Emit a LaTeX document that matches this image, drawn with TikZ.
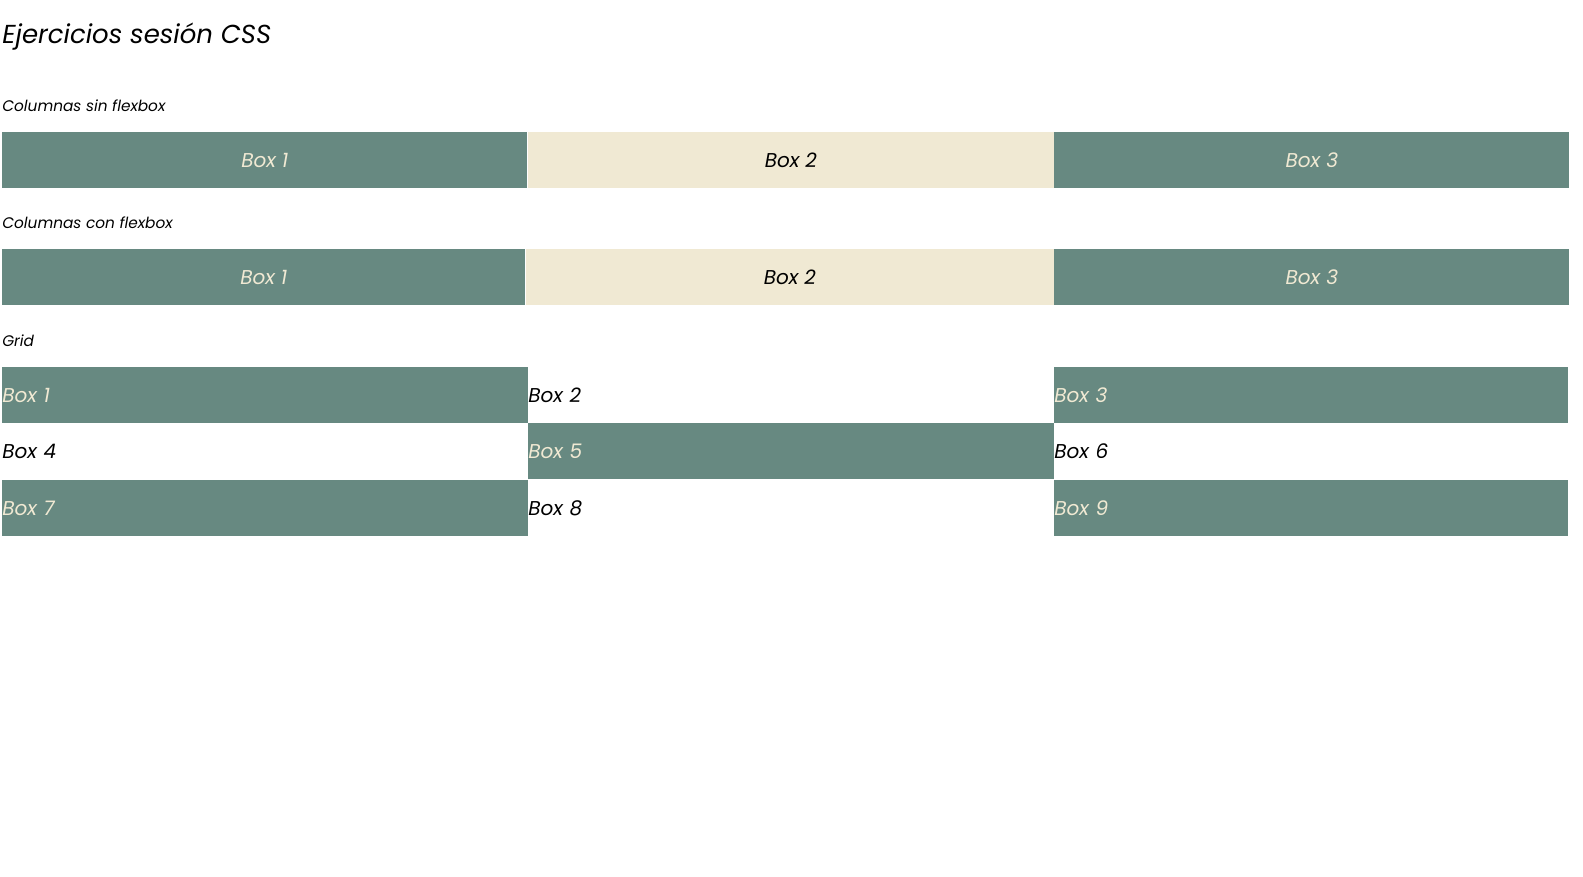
\documentclass[tikz,border=0pt]{standalone}
\usepackage{fontspec}
\setmainfont{Poppins}
\definecolor{boxgreen}{RGB}{103,137,129}
\definecolor{boxbeige}{RGB}{240,233,211}
\tikzset{
	greenbox/.style={fill=boxgreen, text=boxbeige},
	beigebox/.style={fill=boxbeige, text=black},
	whitebox/.style={fill=white, text=black},
	cell/.style={anchor=north west, inner sep=0pt, minimum height=42pt, font=\itshape\fontsize{15}{18}\selectfont},
	caption/.style={anchor=west, inner sep=0pt, font=\itshape\fontsize{11.5}{14}\selectfont}
}
\begin{document}
\begin{tikzpicture}[x=0.75pt,y=-0.75pt]
	\useasboundingbox[fill=white] (0,0) rectangle (1583,876);
	\node[anchor=west, inner sep=0pt, font=\itshape\fontsize{19.5}{24}\selectfont] (title) at (2,37) {Ejercicios sesión CSS};
	% columnas sin flexbox
	\node[caption] (sin) at (2,106) {Columnas sin flexbox};
	\node[cell, greenbox, minimum width=393.75pt] (s1) at (2,132) {Box 1};
	\node[cell, beigebox, minimum width=394.5pt] (s2) at (s1.north east) {Box 2};
	\node[cell, greenbox, minimum width=386.25pt] (s3) at (s2.north east) {Box 3};
	% columnas con flexbox
	\node[caption] (con) at (2,223) {Columnas con flexbox};
	\node[cell, greenbox, minimum width=392.25pt] (c1) at (2,249) {Box 1};
	\node[cell, beigebox, minimum width=396pt] (c2) at (c1.north east) {Box 2};
	\node[cell, greenbox, minimum width=386.25pt] (c3) at (c2.north east) {Box 3};
	% grid
	\node[caption] (grid) at (2,341) {Grid};
	\foreach \n/\x/\y/\w/\sty in {1/2/367/394.5pt/greenbox, 2/528/367/394.5pt/whitebox, 3/1054/367/385.5pt/greenbox,
		4/2/423/394.5pt/whitebox, 5/528/423/394.5pt/greenbox, 6/1054/423/385.5pt/whitebox,
		7/2/480/394.5pt/greenbox, 8/528/480/394.5pt/whitebox, 9/1054/480/385.5pt/greenbox}
		\node[cell, \sty, text width=\w, align=left] (g\n) at (\x,\y) {Box \n};
\end{tikzpicture}
\end{document}
